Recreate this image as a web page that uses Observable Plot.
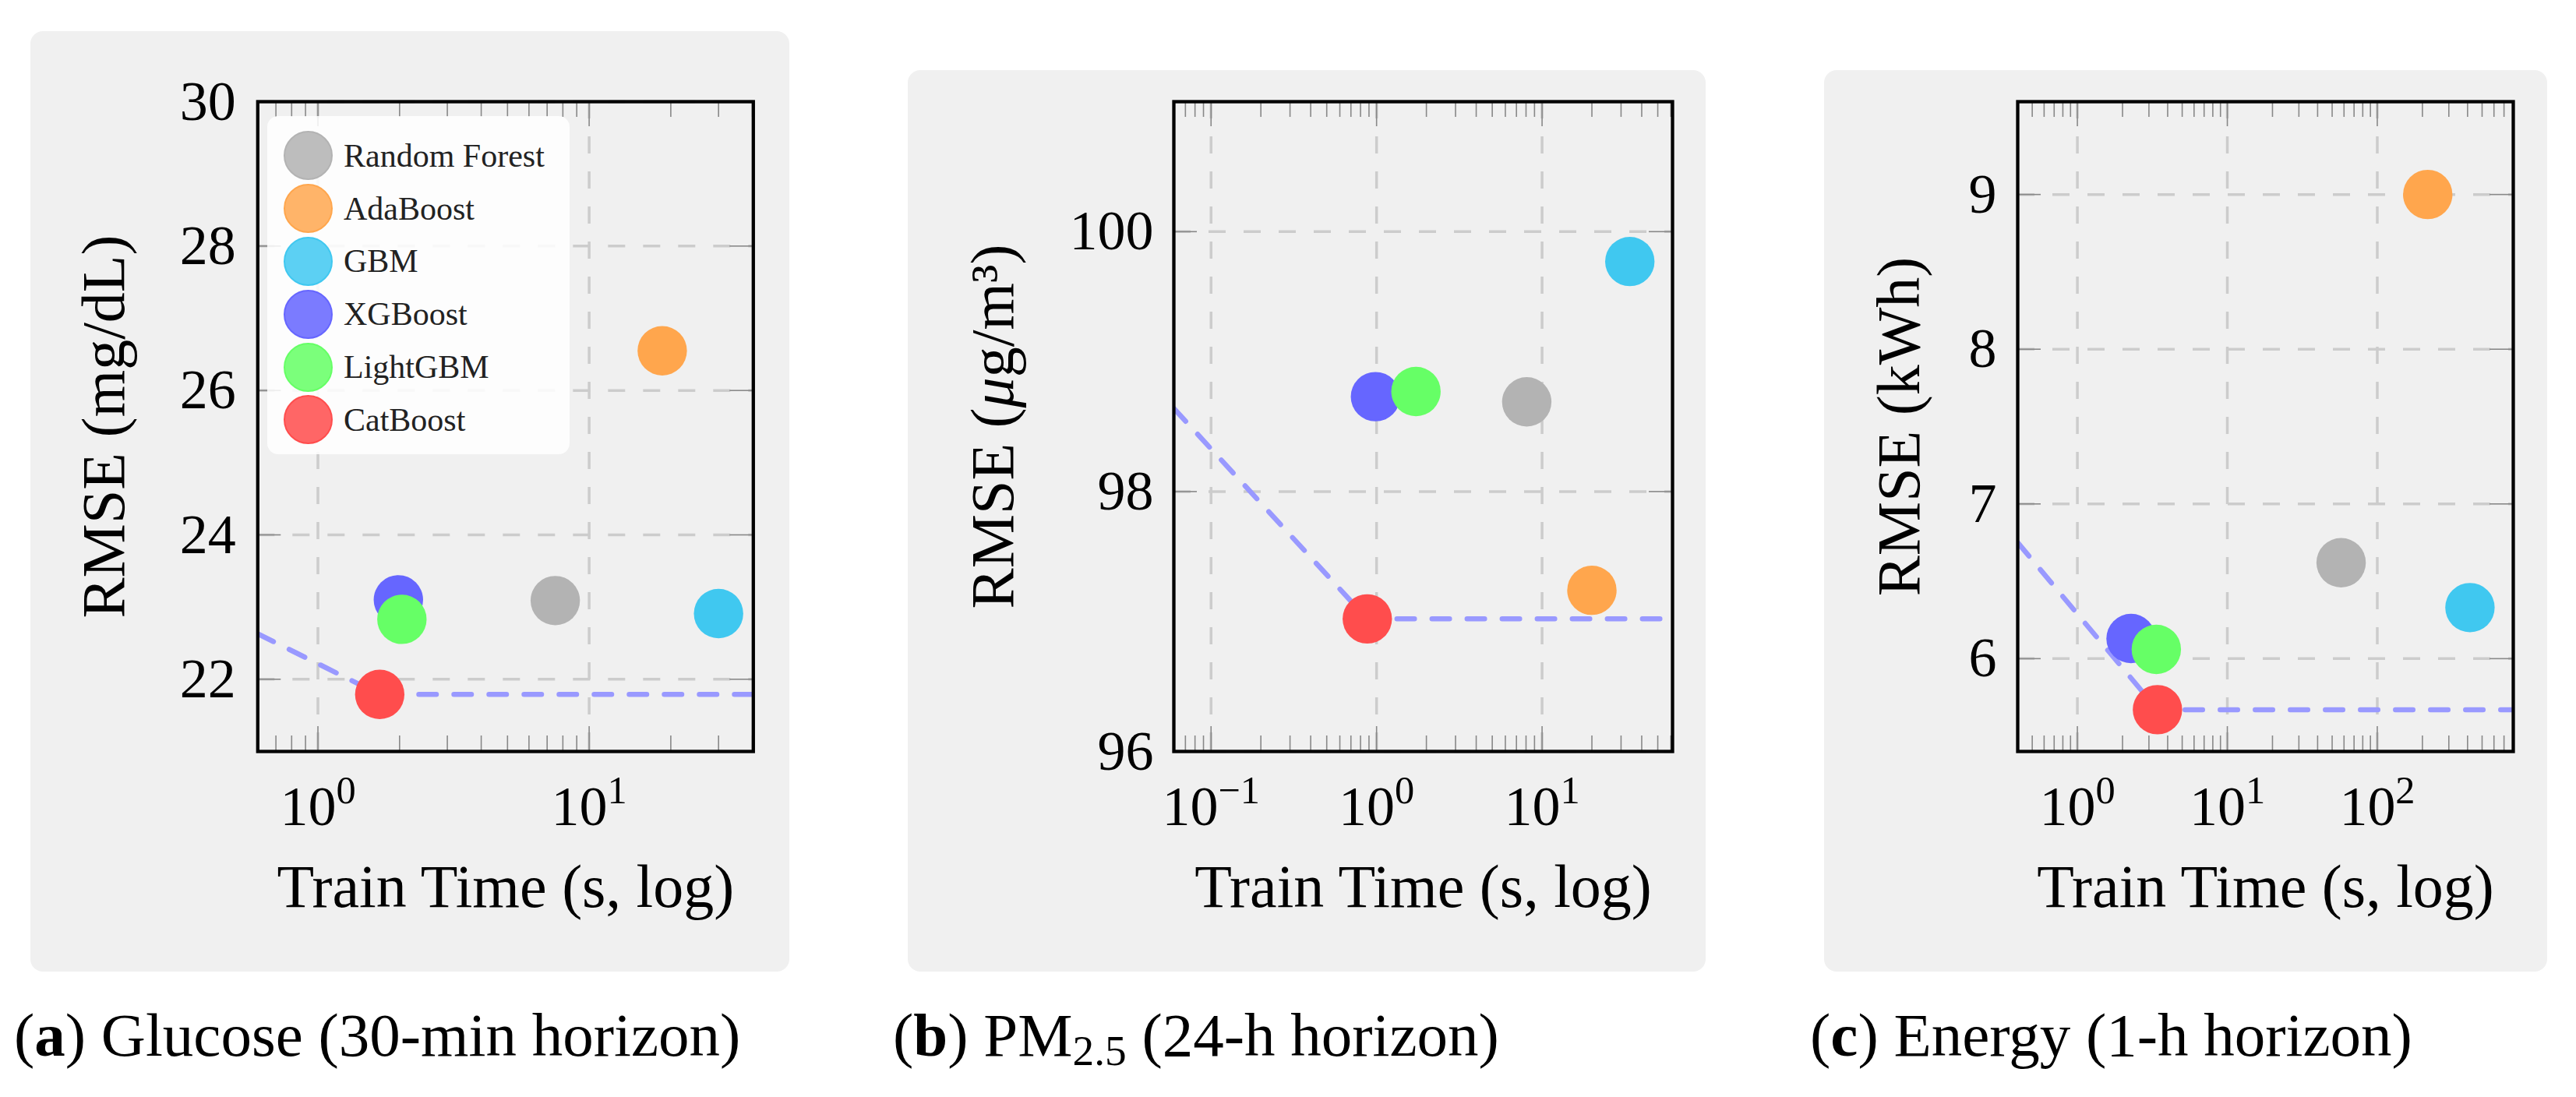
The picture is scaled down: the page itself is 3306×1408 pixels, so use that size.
<!DOCTYPE html>
<html><head><meta charset="utf-8">
<script src="https://cdn.jsdelivr.net/npm/d3@7"></script>
<script src="https://cdn.jsdelivr.net/npm/@observablehq/plot@0.6"></script>
<style>
html,body{margin:0;padding:0;background:#fff;}
#page{position:relative;width:3306px;height:1408px;overflow:hidden;font-family:"Liberation Serif",serif;}
.box{position:absolute;background:#f0f0f0;border-radius:16px;}
.box svg{position:absolute;left:0;top:0;background:transparent;overflow:visible;}
.cap{position:absolute;font-size:79px;line-height:1;white-space:nowrap;color:#000;}
.legend{position:absolute;background:rgba(255,255,255,0.85);border-radius:14px;box-sizing:border-box;padding-top:17px;}
.legend .row{display:flex;align-items:center;height:67.8px;}
.legend .sw{width:63px;height:63px;border-radius:50%;margin-left:21px;box-sizing:border-box;border:2.5px solid;}
.legend .lab{font-size:42px;margin-left:14px;color:#222;}
</style></head>
<body><div id="page"></div>
<script>
// ---- data ----
const models = ["Random Forest", "AdaBoost", "GBM", "XGBoost", "LightGBM", "CatBoost"];
const colors = ["#b3b3b3", "#ffa64d", "#40c8f0", "#6666ff", "#66ff66", "#ff4d4d"];
const legendFills = ["#bdbdbd", "#ffb469", "#5cd0f3", "#7b7bff", "#7bff7b", "#ff6666"];

const glucoseTime = [7.5, 18.6, 30.0, 1.98, 2.04, 1.69];
const glucoseRmse = [23.09, 26.55, 22.91, 23.10, 22.83, 21.79];
const glucoseFrontTime = [0.6, 1.69, 40.3];
const glucoseFrontRmse = [22.63, 21.79, 21.79];

const pm25Time = [8.08, 20.0, 33.9, 0.985, 1.73, 0.879];
const pm25Rmse = [98.69, 97.24, 99.77, 98.73, 98.77, 97.02];
const pm25FrontTime = [0.0596, 0.879, 61.4];
const pm25FrontRmse = [98.64, 97.02, 97.02];

const energyTime = [57.4, 217, 415, 2.28, 3.36, 3.42];
const energyRmse = [6.62, 9.00, 6.33, 6.13, 6.06, 5.67];
const energyFrontTime = [0.40, 3.42, 807];
const energyFrontRmse = [6.75, 5.67, 5.67];

const glucoseXTicks = [1, 10];
const glucoseXTickLabels = ["10^0", "10^1"];
const glucoseYTicks = [22, 24, 26, 28, 30];
const pm25XTicks = [0.1, 1, 10];
const pm25XTickLabels = ["10^\u22121", "10^0", "10^1"];
const pm25YTicks = [96, 98, 100];
const energyXTicks = [1, 10, 100];
const energyXTickLabels = ["10^0", "10^1", "10^2"];
const energyYTicks = [6, 7, 8, 9];

const xLabel = "Train Time (s, log)";

// ---- layout ----
const panels = [
  {time: glucoseTime, rmse: glucoseRmse, ft: glucoseFrontTime, fr: glucoseFrontRmse,
   xd: [0.6, 40.3], yd: [21, 30], xt: glucoseXTicks, xtl: glucoseXTickLabels, yt: glucoseYTicks,
   ylabel: "RMSE (mg/dL)", box: [38.7, 40, 974, 1207], m: [90, 46.7, 283, 291.3], ylDx: -172, ytPad: 28},
  {time: pm25Time, rmse: pm25Rmse, ft: pm25FrontTime, fr: pm25FrontRmse,
   xd: [0.0596, 61.4], yd: [96, 101], xt: pm25XTicks, xtl: pm25XTickLabels, yt: pm25YTicks,
   ylabel: "RMSE (\u03BCg/m\u00B3)", box: [1165, 90, 1024, 1157], m: [40, 43, 283, 341], ylDx: -207, ytPad: 26},
  {time: energyTime, rmse: energyRmse, ft: energyFrontTime, fr: energyFrontRmse,
   xd: [0.40, 807], yd: [5.4, 9.6], xt: energyXTicks, xtl: energyXTickLabels, yt: energyYTicks,
   ylabel: "RMSE (kWh)", box: [2341, 90, 928, 1157], m: [40, 44, 283, 248], ylDx: -127, ytPad: 27}
];
const captions = [
  {x: 18, html: "(<b>a</b>) Glucose (30-min horizon)"},
  {x: 1146, html: "(<b>b</b>) PM<sub style=\"font-size:0.7em;vertical-align:-0.22em;line-height:0\">2.5</sub> (24-h horizon)"},
  {x: 2323, html: "(<b>c</b>) Energy (1-h horizon)"}
];

function minorTicks([lo, hi]) {
  const out = [];
  for (let e = Math.floor(Math.log10(lo)); e <= Math.ceil(Math.log10(hi)); e++)
    for (let k = 2; k <= 9; k++) { const v = k * Math.pow(10, e); if (v > lo * 1.001 && v < hi * 0.999) out.push(v); }
  return out;
}

const NS = "http://www.w3.org/2000/svg";
const tickFs = 72, labelFs = 78;
const page = document.getElementById("page");

panels.forEach((p, pi) => {
  const [bx, by, bw, bh] = p.box;
  const [mt, mr, mb, ml] = p.m;
  const innerW = bw - ml - mr, innerH = bh - mt - mb;
  const pts = models.map((name, i) => ({name, t: p.time[i], r: p.rmse[i], c: colors[i]}));
  const front = p.ft.map((t, i) => ({t, r: p.fr[i]}));
  const minor = minorTicks(p.xd);
  const lab = new Map(p.xt.map((v, i) => [v, p.xtl[i]]));
  const tickStyle = {stroke: "#888", strokeWidth: 1.6};
  const svg = Plot.plot({
    width: bw, height: bh,
    marginTop: mt, marginRight: mr, marginBottom: mb, marginLeft: ml,
    x: {type: "log", domain: p.xd},
    y: {domain: p.yd},
    style: {background: "transparent", fontFamily: "'Liberation Serif', serif", color: "#000", overflow: "visible"},
    marks: [
      Plot.gridX(p.xt, {stroke: "#cccccc", strokeOpacity: 1, strokeWidth: 3.5, strokeDasharray: "22,23"}),
      Plot.gridY(p.yt, {stroke: "#cccccc", strokeOpacity: 1, strokeWidth: 3.5, strokeDasharray: "22,23"}),
      Plot.tickX(minor, {x: d => d, insetTop: innerH - 20, ...tickStyle}),
      Plot.tickX(minor, {x: d => d, insetBottom: innerH - 20, ...tickStyle}),
      Plot.tickX(p.xt, {x: d => d, insetTop: innerH - 32, ...tickStyle}),
      Plot.tickX(p.xt, {x: d => d, insetBottom: innerH - 32, ...tickStyle}),
      Plot.tickY(p.yt, {y: d => d, insetRight: innerW - 30, ...tickStyle}),
      Plot.tickY(p.yt, {y: d => d, insetLeft: innerW - 30, ...tickStyle}),
      Plot.line(front, {x: "t", y: "r", stroke: "#9999ff", strokeWidth: 6.5, strokeDasharray: "22.5,22.5", clip: true}),
      Plot.dot(pts, {x: "t", y: "r", r: 31.7, fill: "c", stroke: null}),
      Plot.frame({stroke: "#000", strokeWidth: 4.3}),
      Plot.axisX(p.xt, {tickSize: 0, tickPadding: 43, fontSize: tickFs, tickFormat: d => lab.get(d), label: null}),
      Plot.axisY(p.yt, {tickSize: 0, tickPadding: p.ytPad, fontSize: tickFs, tickFormat: d => String(d), label: null}),
      Plot.text([xLabel], {frameAnchor: "bottom", dy: 199, lineAnchor: "bottom", fontSize: labelFs, text: d => d}),
      Plot.text([p.ylabel], {frameAnchor: "left", dx: p.ylDx, rotate: -90, lineAnchor: "bottom", textAnchor: "middle", fontSize: labelFs, text: d => d})
    ]
  });
  // superscripts for log tick labels, italic mu
  svg.querySelectorAll("text").forEach(t => {
    const s = t.textContent;
    if (s.includes("^")) {
      const [b, e] = s.split("^");
      t.textContent = "";
      const t1 = document.createElementNS(NS, "tspan"); t1.textContent = b;
      const t2 = document.createElementNS(NS, "tspan"); t2.textContent = e;
      t2.setAttribute("dy", -0.39 * tickFs); t2.setAttribute("font-size", 0.7 * tickFs);
      t.append(t1, t2);
    } else if (s.includes("\u03BC")) {
      const [a, b] = s.split("\u03BC");
      t.textContent = "";
      const t1 = document.createElementNS(NS, "tspan"); t1.textContent = a;
      const t2 = document.createElementNS(NS, "tspan"); t2.textContent = "\u03BC"; t2.setAttribute("font-style", "italic");
      const t3 = document.createElementNS(NS, "tspan"); t3.textContent = b;
      t.append(t1, t2, t3);
    }
  });
  const box = document.createElement("div");
  box.className = "box";
  Object.assign(box.style, {left: bx + "px", top: by + "px", width: bw + "px", height: bh + "px"});
  box.appendChild(svg);
  page.appendChild(box);
});

// legend (panel a)
const leg = document.createElement("div");
leg.className = "legend";
Object.assign(leg.style, {left: "343px", top: "149px", width: "388px", height: "434px"});
models.forEach((m, i) => {
  const row = document.createElement("div"); row.className = "row";
  const sw = document.createElement("div"); sw.className = "sw";
  sw.style.background = legendFills[i]; sw.style.borderColor = colors[i];
  const l = document.createElement("div"); l.className = "lab"; l.textContent = m;
  row.append(sw, l); leg.appendChild(row);
});
page.appendChild(leg);

captions.forEach(c => {
  const d = document.createElement("div");
  d.className = "cap";
  d.innerHTML = c.html;
  Object.assign(d.style, {left: c.x + "px", top: (1359 - 0.891 * 79) + "px"});
  page.appendChild(d);
});
</script></body></html>
